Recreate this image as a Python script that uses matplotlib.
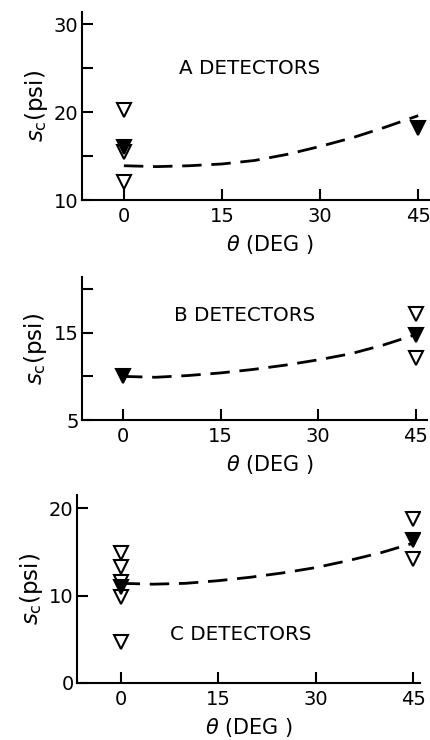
import matplotlib
matplotlib.use("Agg")
import matplotlib.pyplot as plt

plt.rcParams["font.family"] = "DejaVu Sans"
plt.rcParams["mathtext.fontset"] = "dejavusans"

# angles (deg) and s_c (psi)
x_ticks = [0, 15, 30, 45]

a_open_x = [0, 0, 0]
a_open_y = [20.2, 15.5, 12.0]
a_fill_x = [0, 45]
a_fill_y = [16.0, 18.2]
a_line_x = [0, 5, 10, 15, 20, 25, 30, 35, 40, 45]
a_line_y = [13.9, 13.8, 13.9, 14.1, 14.5, 15.2, 16.1, 17.1, 18.3, 19.6]

b_open_x = [45, 45]
b_open_y = [17.2, 12.1]
b_fill_x = [0, 45]
b_fill_y = [10.0, 14.7]
b_line_x = [0, 5, 10, 15, 20, 25, 30, 35, 40, 45]
b_line_y = [10.0, 9.9, 10.1, 10.4, 10.8, 11.3, 11.9, 12.6, 13.6, 14.8]

c_open_x = [0, 0, 0, 0, 0, 45, 45]
c_open_y = [14.9, 13.3, 11.5, 9.8, 4.7, 18.8, 14.2]
c_fill_x = [0, 45]
c_fill_y = [11.0, 16.3]
c_line_x = [0, 5, 10, 15, 20, 25, 30, 35, 40, 45]
c_line_y = [11.4, 11.3, 11.4, 11.7, 12.1, 12.6, 13.2, 14.0, 14.9, 16.0]

W, H = 431, 740


def px_axes(fig, left, right, bottom, top):
    return fig.add_axes([left / W, 1 - bottom / H, (right - left) / W, (bottom - top) / H])


def panel(ax, ox, oy, fx, fy, lx, ly, xlim, ylim, yticks, ylabels, label, lab_xy, xlab_x):
    ax.plot(lx, ly, color="black", lw=2, dashes=(7, 3.5))
    ax.plot(ox, oy, linestyle="none", marker="v", ms=10, mfc="white", mec="black", mew=1.5)
    ax.plot(fx, fy, linestyle="none", marker="v", ms=10, mfc="black", mec="black", mew=1.5)
    ax.set_xlim(*xlim)
    ax.set_ylim(*ylim)
    ax.set_xticks(x_ticks)
    ax.set_yticks(yticks)
    ax.set_yticklabels(ylabels)
    for s in ["top", "right"]:
        ax.spines[s].set_visible(False)
    for s in ["left", "bottom"]:
        ax.spines[s].set_linewidth(1.5)
    ax.tick_params(axis="both", direction="in", length=8, width=1.5, labelsize=14)
    ax.tick_params(axis="x", pad=5)
    ax.tick_params(axis="y", pad=2.5)
    ax.set_xlabel(r"$\theta$ (DEG )", fontsize=15, labelpad=5, x=xlab_x)
    ax.set_ylabel(r"$s_{\rm c}$(psi)", fontsize=16.5, labelpad=3)
    ax.text(lab_xy[0], lab_xy[1], label, fontsize=14.3, ha="center", va="center")


fig = plt.figure(figsize=(W / 100, H / 100), dpi=100)

ax1 = px_axes(fig, 82, 430, 200, 12)
panel(ax1, a_open_x, a_open_y, a_fill_x, a_fill_y, a_line_x, a_line_y,
      (-6.4, 46.8), (10, 31.4), [10, 15, 20, 25, 30], ["10", "", "20", "", "30"],
      "A DETECTORS", (19.2, 25), 0.54)

ax2 = px_axes(fig, 82, 427, 420, 277)
panel(ax2, b_open_x, b_open_y, b_fill_x, b_fill_y, b_line_x, b_line_y,
      (-6.3, 46.7), (5, 21.4), [5, 10, 15, 20], ["5", "", "15", ""],
      "B DETECTORS", (18.7, 17.0), 0.545)

ax3 = px_axes(fig, 77, 420, 683, 495)
panel(ax3, c_open_x, c_open_y, c_fill_x, c_fill_y, c_line_x, c_line_y,
      (-6.7, 46.0), (0, 21.5), [0, 10, 20], ["0", "10", "20"],
      "C DETECTORS", (18.4, 5.5), 0.5)

fig.savefig("out.png", dpi=100)
